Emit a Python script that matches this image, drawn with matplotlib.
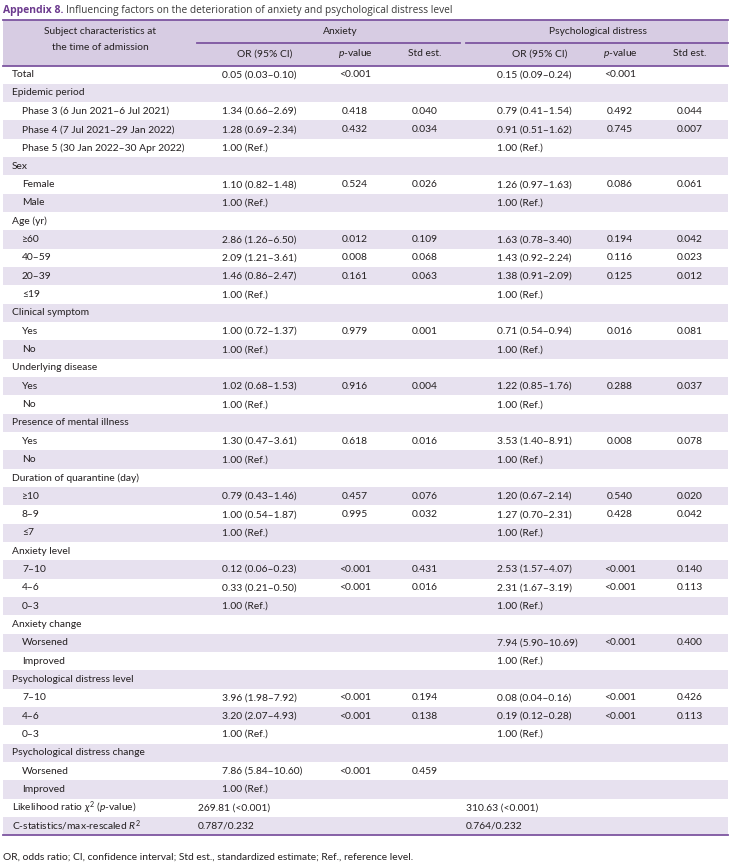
import matplotlib.pyplot as plt
from matplotlib.patches import Rectangle

plt.rcParams['font.family'] = ['Lato', 'DejaVu Sans']
plt.rcParams['mathtext.fontset'] = 'custom'
plt.rcParams['mathtext.rm'] = 'Lato'
plt.rcParams['mathtext.it'] = 'Lato:italic'

# rows: (label, indent level)
labels = [
    ('Total', 0), ('Epidemic period', 0),
    ('Phase 3 (6 Jun 2021–6 Jul 2021)', 1), ('Phase 4 (7 Jul 2021–29 Jan 2022)', 1),
    ('Phase 5 (30 Jan 2022–30 Apr 2022)', 1),
    ('Sex', 0), ('Female', 1), ('Male', 1),
    ('Age (yr)', 0), ('≥60', 1), ('40–59', 1), ('20–39', 1), ('≤19', 1),
    ('Clinical symptom', 0), ('Yes', 1), ('No', 1),
    ('Underlying disease', 0), ('Yes', 1), ('No', 1),
    ('Presence of mental illness', 0), ('Yes', 1), ('No', 1),
    ('Duration of quarantine (day)', 0), ('≥10', 1), ('8–9', 1), ('≤7', 1),
    ('Anxiety level', 0), ('7–10', 1), ('4–6', 1), ('0–3', 1),
    ('Anxiety change', 0), ('Worsened', 1), ('Improved', 1),
    ('Psychological distress level', 0), ('7–10', 1), ('4–6', 1), ('0–3', 1),
    ('Psychological distress change', 0), ('Worsened', 1), ('Improved', 1),
    ('Likelihood ratio $\\chi^2$ ($p$-value)', 0),
    ('C-statistics/max-rescaled $R^2$', 0),
]

REF = '1.00 (Ref.)'
anx_or = ['0.05 (0.03–0.10)', '', '1.34 (0.66–2.69)', '1.28 (0.69–2.34)', REF,
          '', '1.10 (0.82–1.48)', REF,
          '', '2.86 (1.26–6.50)', '2.09 (1.21–3.61)', '1.46 (0.86–2.47)', REF,
          '', '1.00 (0.72–1.37)', REF, '', '1.02 (0.68–1.53)', REF,
          '', '1.30 (0.47–3.61)', REF,
          '', '0.79 (0.43–1.46)', '1.00 (0.54–1.87)', REF,
          '', '0.12 (0.06–0.23)', '0.33 (0.21–0.50)', REF,
          '', '', '',
          '', '3.96 (1.98–7.92)', '3.20 (2.07–4.93)', REF,
          '', '7.86 (5.84–10.60)', REF, '', '']
anx_p = ['<0.001', '', '0.418', '0.432', '', '', '0.524', '',
         '', '0.012', '0.008', '0.161', '', '', '0.979', '', '', '0.916', '',
         '', '0.618', '', '', '0.457', '0.995', '', '', '<0.001', '<0.001', '',
         '', '', '', '', '<0.001', '<0.001', '', '', '<0.001', '', '', '']
anx_std = ['', '', '0.040', '0.034', '', '', '0.026', '',
           '', '0.109', '0.068', '0.063', '', '', '0.001', '', '', '0.004', '',
           '', '0.016', '', '', '0.076', '0.032', '', '', '0.431', '0.016', '',
           '', '', '', '', '0.194', '0.138', '', '', '0.459', '', '', '']
psy_or = ['0.15 (0.09–0.24)', '', '0.79 (0.41–1.54)', '0.91 (0.51–1.62)', REF,
          '', '1.26 (0.97–1.63)', REF,
          '', '1.63 (0.78–3.40)', '1.43 (0.92–2.24)', '1.38 (0.91–2.09)', REF,
          '', '0.71 (0.54–0.94)', REF, '', '1.22 (0.85–1.76)', REF,
          '', '3.53 (1.40–8.91)', REF,
          '', '1.20 (0.67–2.14)', '1.27 (0.70–2.31)', REF,
          '', '2.53 (1.57–4.07)', '2.31 (1.67–3.19)', REF,
          '', '7.94 (5.90–10.69)', REF,
          '', '0.08 (0.04–0.16)', '0.19 (0.12–0.28)', REF,
          '', '', '', '', '']
psy_p = ['<0.001', '', '0.492', '0.745', '', '', '0.086', '',
         '', '0.194', '0.116', '0.125', '', '', '0.016', '', '', '0.288', '',
         '', '0.008', '', '', '0.540', '0.428', '', '', '<0.001', '<0.001', '',
         '', '<0.001', '', '', '<0.001', '<0.001', '', '', '', '', '', '']
psy_std = ['', '', '0.044', '0.007', '', '', '0.061', '',
           '', '0.042', '0.023', '0.012', '', '', '0.081', '', '', '0.037', '',
           '', '0.078', '', '', '0.020', '0.042', '', '', '0.140', '0.113', '',
           '', '0.400', '', '', '0.426', '0.113', '', '', '', '', '', '']
fit_anx = ['269.81 (<0.001)', '0.787/0.232']
fit_psy = ['310.63 (<0.001)', '0.764/0.232']

W, H = 730, 868
fig = plt.figure(figsize=(W / 100, H / 100), dpi=100)
ax = fig.add_axes([0, 0, 1, 1])
ax.set_xlim(0, W)
ax.set_ylim(H, 0)
ax.axis('off')

purple = '#6c3a8e'
line_c = '#7d55a0'
head_bg = '#d7cce3'
band_bg = '#e7e1ef'
txt = '#231f20'
fs = 7.4

left, right = 3, 728
head_top, head_mid, head_bot = 20, 42.5, 65.5
row_h = 18.33

# title: bold label, then the caption right after it
title_font = ['Open Sans', 'DejaVu Sans']
t1 = ax.text(left, 10, 'Appendix 8.', fontsize=7.5, fontweight='bold', color=purple,
             va='center', ha='left', family=title_font)
fig.canvas.draw()
bb = t1.get_window_extent()
x_after = ax.transData.inverted().transform((bb.x1, bb.y0))[0] + 3
ax.text(x_after, 10, 'Influencing factors on the deterioration of anxiety and psychological distress level',
        fontsize=7.3, color='#3a3a3a', va='center', ha='left', family=title_font)

# header
ax.add_patch(Rectangle((left, head_top), right - left, head_bot - head_top, color=head_bg, lw=0))
ax.plot([left, right], [head_top, head_top], color=line_c, lw=1.3)
ax.plot([left, right], [head_bot, head_bot], color=line_c, lw=1.3)
ax.plot([197, 460], [head_mid, head_mid], color=line_c, lw=1.3)
ax.plot([466, right], [head_mid, head_mid], color=line_c, lw=1.3)

ax.text(100, 32, 'Subject characteristics at', fontsize=fs, color=txt, ha='center', va='center')
ax.text(100, 47.5, 'the time of admission', fontsize=fs, color=txt, ha='center', va='center')
ax.text(340, 32, 'Anxiety', fontsize=fs, color=txt, ha='center', va='center')
ax.text(598, 32, 'Psychological distress', fontsize=fs, color=txt, ha='center', va='center')

cols_x = [265, 355, 425, 540, 620, 690]
sub_heads = ['OR (95% CI)', '$p$-value', 'Std est.'] * 2
for x, s in zip(cols_x, sub_heads):
    ax.text(x, 54, s, fontsize=fs, color=txt, ha='center', va='center')

# body
n = len(labels)
for i, (lab, lvl) in enumerate(labels):
    y0 = head_bot + i * row_h
    yc = y0 + row_h / 2
    if i % 2 == 1:
        ax.add_patch(Rectangle((left, y0), right - left, row_h, color=band_bg, lw=0))
    ax.text(12 + 10 * lvl, yc, lab, fontsize=fs, color=txt, ha='left', va='center')
    ax.text(222, yc, anx_or[i], fontsize=fs, color=txt, ha='left', va='center')
    ax.text(cols_x[1], yc, anx_p[i], fontsize=fs, color=txt, ha='center', va='center')
    ax.text(cols_x[2], yc, anx_std[i], fontsize=fs, color=txt, ha='center', va='center')
    ax.text(497, yc, psy_or[i], fontsize=fs, color=txt, ha='left', va='center')
    ax.text(cols_x[4], yc, psy_p[i], fontsize=fs, color=txt, ha='center', va='center')
    ax.text(cols_x[5], yc, psy_std[i], fontsize=fs, color=txt, ha='center', va='center')

for k in range(2):
    yc = head_bot + (n - 2 + k) * row_h + row_h / 2
    ax.text(198, yc, fit_anx[k], fontsize=fs, color=txt, ha='left', va='center')
    ax.text(466, yc, fit_psy[k], fontsize=fs, color=txt, ha='left', va='center')

y_end = head_bot + n * row_h
ax.plot([left, right], [y_end, y_end], color=line_c, lw=1.3)

ax.text(left, 857, 'OR, odds ratio; CI, confidence interval; Std est., standardized estimate; Ref., reference level.',
        fontsize=fs, color=txt, ha='left', va='center')

fig.savefig('out.png', dpi=100)
